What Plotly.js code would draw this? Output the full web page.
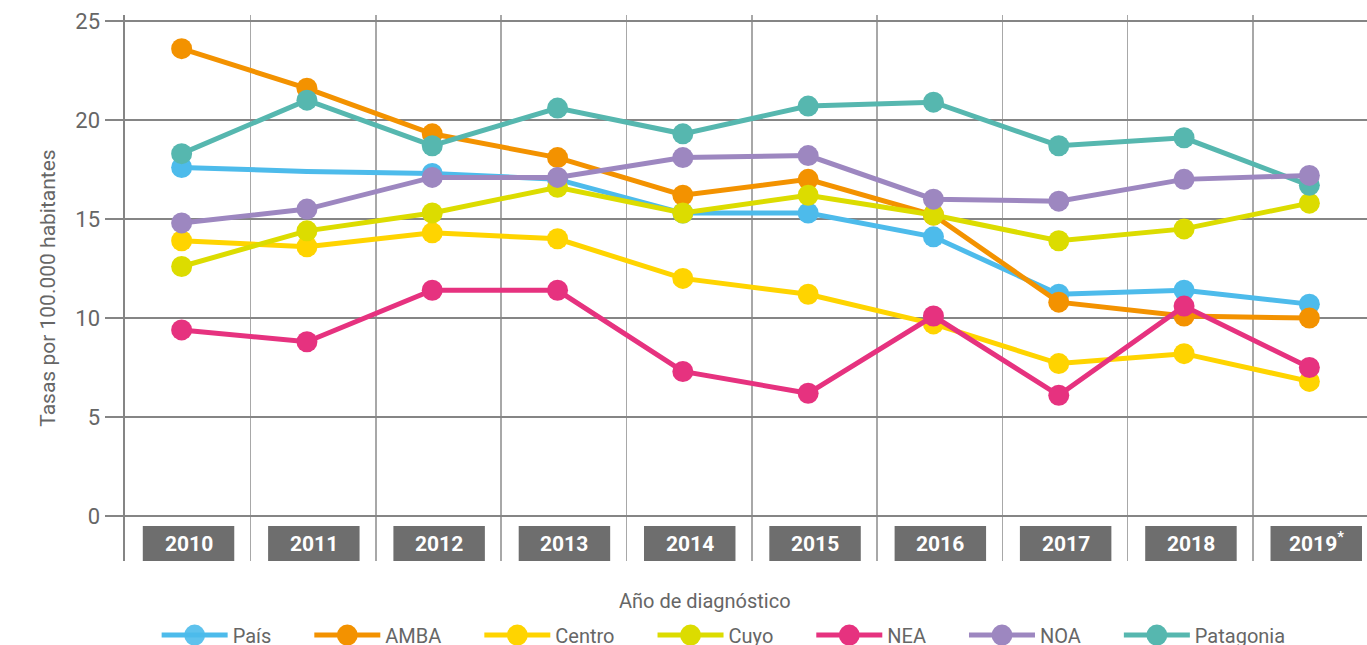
<!DOCTYPE html>
<html>
<head>
<meta charset="utf-8">
<script src="https://cdn.plot.ly/plotly-3.0.1.min.js"></script>
<style>html,body{margin:0;padding:0;background:#fff;}#chart{width:1367px;height:645px;}</style>
</head>
<body>
<div id="chart"></div>
<script>
// ---- Data ----
const years = [2010, 2011, 2012, 2013, 2014, 2015, 2016, 2017, 2018, 2019];
const yearLabels = ["2010", "2011", "2012", "2013", "2014", "2015", "2016", "2017", "2018", "2019<sup>*</sup>"];
const seriesNames = ["País", "AMBA", "Centro", "Cuyo", "NEA", "NOA", "Patagonia"];
const pais      = [17.6, 17.4, 17.3, 17.0, 15.3, 15.3, 14.1, 11.2, 11.4, 10.7];
const amba      = [23.6, 21.6, 19.3, 18.1, 16.2, 17.0, 15.2, 10.8, 10.1, 10.0];
const centro    = [13.9, 13.6, 14.3, 14.0, 12.0, 11.2, 9.7, 7.7, 8.2, 6.8];
const cuyo      = [12.6, 14.4, 15.3, 16.6, 15.3, 16.2, 15.2, 13.9, 14.5, 15.8];
const nea       = [9.4, 8.8, 11.4, 11.4, 7.3, 6.2, 10.1, 6.1, 10.6, 7.5];
const noa       = [14.8, 15.5, 17.1, 17.1, 18.1, 18.2, 16.0, 15.9, 17.0, 17.2];
const patagonia = [18.3, 21.0, 18.7, 20.6, 19.3, 20.7, 20.9, 18.7, 19.1, 16.7];
const yTicks = [0, 5, 10, 15, 20, 25];

// ---- Styles ----
const colors = {
  "País": "#4DBBEB", "AMBA": "#F39200", "Centro": "#FFD400", "Cuyo": "#DCDC00",
  "NEA": "#E6327F", "NOA": "#9D87C0", "Patagonia": "#56B7AF"
};
const valuesByName = {"País": pais, "AMBA": amba, "Centro": centro, "Cuyo": cuyo, "NEA": nea, "NOA": noa, "Patagonia": patagonia};
const drawOrder = ["País", "AMBA", "Centro", "Cuyo", "NEA", "Patagonia", "NOA"];
const FONT = "Roboto, 'Liberation Sans', sans-serif";
const NARROW = "'Liberation Sans Narrow', Roboto, sans-serif";
const gray = "#6E6E6E";

const traces = drawOrder.map(name => ({
  type: "scatter", mode: "lines+markers", name: name,
  x: years, y: valuesByName[name],
  legendrank: seriesNames.indexOf(name) + 1,
  line: {color: colors[name], width: 5},
  marker: {color: colors[name], size: 21,
           opacity: name === "País" ? years.map((y, i) => i === 1 ? 0 : 1) : 1},
  hoverinfo: "x+y+name"
}));

const shapes = years.map(y => ({
  type: "rect", xref: "x", yref: "y", layer: "above",
  x0: y - 0.31, x1: y + 0.42, y0: -0.5, y1: -2.27,
  fillcolor: gray, line: {width: 0}
}));

const annotations = years.map((y, i) => ({
  x: y + 0.055, y: -1.39, xref: "x", yref: "y", text: "<b>" + yearLabels[i] + "</b>",
  showarrow: false, font: {family: FONT, size: 21, color: "#ffffff"},
  xanchor: "center", yanchor: "middle",
  yshift: yearLabels[i].indexOf("<sup>") >= 0 ? 2 : 0
}));
annotations.push({
  x: 0.467, y: -0.073, xref: "paper", yref: "paper", text: "Año de diagnóstico",
  showarrow: false, font: {family: FONT, size: 20, color: "#666"}, xanchor: "center", yanchor: "middle"
});

const layout = {
  width: 1367, height: 645,
  margin: {l: 125, r: 0, t: 15, b: 84, autoexpand: false},
  paper_bgcolor: "#fff", plot_bgcolor: "#fff",
  showlegend: true,
  legend: {
    orientation: "h", x: 0.482, xanchor: "center", y: -0.1, yanchor: "top",
    font: {family: FONT, size: 20, color: "#666"}, itemwidth: 66,
    bgcolor: "rgba(0,0,0,0)", traceorder: "normal"
  },
  xaxis: {
    range: [2009.548, 2019.46], tickvals: years.map(y => y - 0.45),
    showticklabels: false, showgrid: true, gridcolor: "#a8a8a8", gridwidth: 1.5,
    zeroline: false, showline: false, ticks: "", fixedrange: true
  },
  yaxis: {
    range: [-2.27, 25.3], tickvals: yTicks, ticktext: yTicks.map(String),
    showgrid: true, gridcolor: "#858585", gridwidth: 1.5,
    zeroline: true, zerolinecolor: "#858585", zerolinewidth: 2.5,
    showline: true, linecolor: "#858585", linewidth: 2.5,
    ticks: "outside", ticklen: 18, tickwidth: 1.5, tickcolor: "#858585",
    tickfont: {family: NARROW, size: 22, color: "#666"},
    title: {text: "Tasas por 100.000 habitantes", font: {family: FONT, size: 21, color: "#666"}, standoff: 14},
    fixedrange: true
  },
  shapes: shapes,
  annotations: annotations
};

Plotly.newPlot("chart", traces, layout, {displayModeBar: false, staticPlot: true}).then(gd => {
  // enlarge legend markers (Plotly caps them at 16px)
  gd.querySelectorAll(".legend .legendpoints path.scatterpts").forEach(p => {
    const t = p.getAttribute("transform") || "";
    p.setAttribute("transform", t + " scale(1.31)");
  });
  // widen spacing between legend entries, keeping the legend centred
  const sb = gd.querySelector(".legend .scrollbox");
  if (sb) sb.removeAttribute("clip-path");
  const items = Array.from(gd.querySelectorAll(".legend .traces"));
  const extra = 33, mid = (items.length - 1) / 2;
  items.forEach((g, i) => {
    const m = /translate\(\s*([-\d.]+)[ ,]+([-\d.]+)\s*\)/.exec(g.getAttribute("transform") || "");
    if (!m) return;
    const x = parseFloat(m[1]) + (i - mid) * extra;
    g.setAttribute("transform", "translate(" + x + "," + m[2] + ")");
  });
});
</script>
</body>
</html>
